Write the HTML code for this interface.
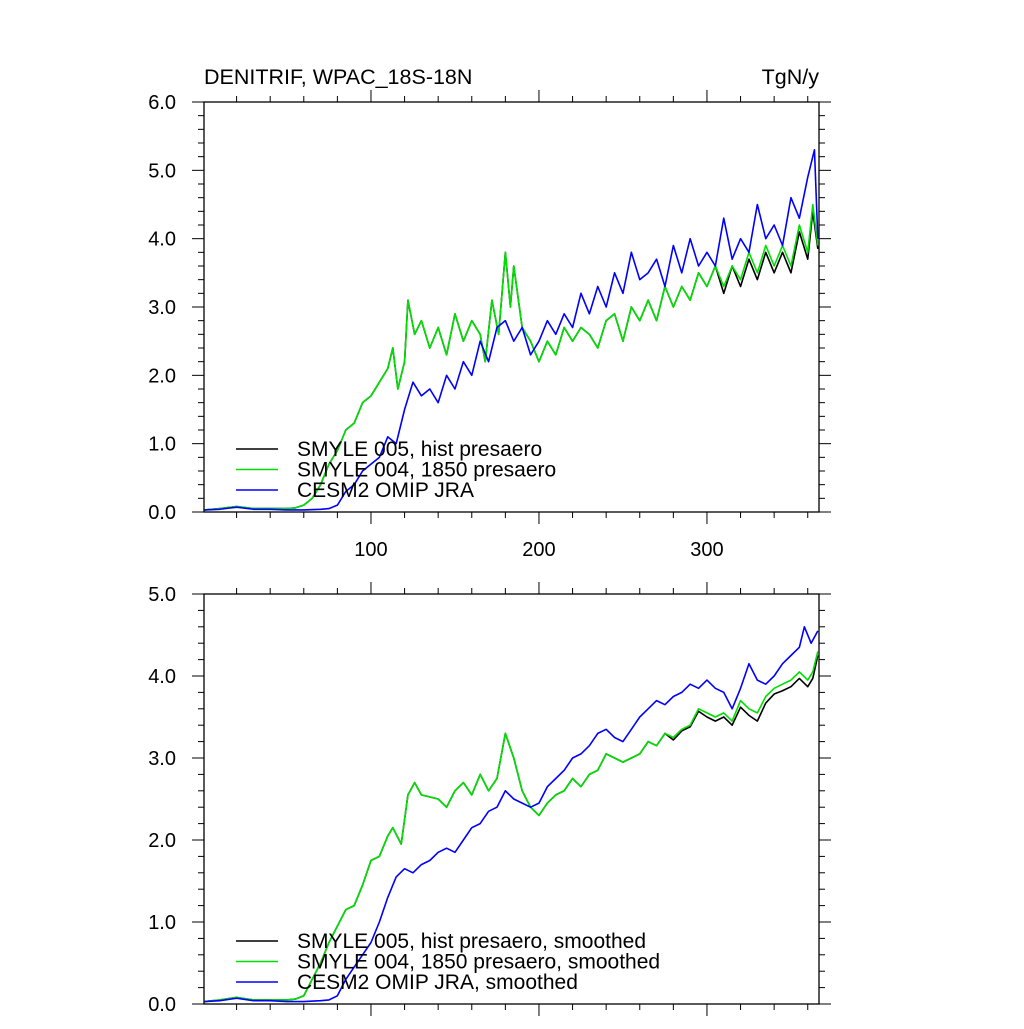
<!DOCTYPE html>
<html><head><meta charset="utf-8"><style>
body{margin:0;background:#fff}
svg text{font-family:"Liberation Sans",sans-serif;fill:#000}
</style></head><body>
<svg id="c" width="1024" height="1024" viewBox="0 0 1024 1024">
<text x="204" y="84" font-size="21.5">DENITRIF, WPAC_18S-18N</text>
<text x="819" y="84" font-size="21.5" text-anchor="end">TgN/y</text>
<g id="top"></g>
<g id="bot"></g>
</svg>
<script>
const topGreenX=[1,10,20,30,40,50,55,60,65,70,75,80,85,90,95,100,105,110,113,116,120,122,126,130,135,140,145,150,155,160,165,168,172,176,180,183,185,190,195,200,205,210,215,220,225,230,235,240,245,250,255,260,265,270,275,280,285,290,295,300,305,310,315,320,325,330,335,340,345,350,355,360,363,366];
const topGreenY=[0.03,0.05,0.08,0.05,0.05,0.05,0.06,0.1,0.2,0.4,0.7,0.9,1.2,1.3,1.6,1.7,1.9,2.1,2.4,1.8,2.2,3.1,2.6,2.8,2.4,2.7,2.3,2.9,2.5,2.8,2.6,2.2,3.1,2.6,3.8,3.0,3.6,2.7,2.5,2.2,2.5,2.3,2.7,2.5,2.7,2.6,2.4,2.8,2.9,2.5,3.0,2.8,3.1,2.8,3.3,3.0,3.3,3.1,3.5,3.3,3.6,3.3,3.6,3.4,3.8,3.5,3.9,3.6,3.9,3.6,4.2,3.8,4.5,3.9];
const topBlackY=[0.03,0.05,0.08,0.05,0.05,0.05,0.06,0.1,0.2,0.4,0.7,0.9,1.2,1.3,1.6,1.7,1.9,2.1,2.4,1.8,2.2,3.1,2.6,2.8,2.4,2.7,2.3,2.9,2.5,2.8,2.6,2.2,3.1,2.6,3.8,3.0,3.6,2.7,2.5,2.2,2.5,2.3,2.7,2.5,2.7,2.6,2.4,2.8,2.9,2.5,3.0,2.8,3.1,2.8,3.3,3.0,3.3,3.1,3.5,3.3,3.6,3.2,3.6,3.3,3.7,3.4,3.8,3.5,3.8,3.5,4.1,3.7,4.4,3.85];
const topBlueX=[1,10,20,30,40,50,60,70,75,80,85,90,95,100,105,110,115,120,125,130,135,140,145,150,155,160,165,170,175,180,185,190,195,200,205,210,215,220,225,230,235,240,245,250,255,260,265,270,275,280,285,290,295,300,305,310,315,320,325,330,335,340,345,350,355,360,364,366];
const topBlueY=[0.03,0.04,0.07,0.04,0.04,0.03,0.03,0.04,0.05,0.1,0.3,0.4,0.6,0.7,0.8,1.1,1.0,1.5,1.9,1.7,1.8,1.6,2.0,1.8,2.2,2.0,2.5,2.2,2.7,2.8,2.5,2.7,2.3,2.5,2.8,2.6,2.9,2.7,3.2,2.9,3.3,3.0,3.5,3.2,3.8,3.4,3.5,3.7,3.3,3.9,3.5,4.0,3.6,3.8,3.6,4.3,3.7,4.0,3.8,4.5,4.0,4.2,3.9,4.6,4.3,4.9,5.3,4.0];
const botGreenX=[1,10,20,30,40,50,55,60,65,70,75,80,85,90,95,100,105,110,113,118,122,126,130,140,145,150,155,160,165,170,175,180,185,190,195,200,205,210,215,220,225,230,235,240,245,250,255,260,265,270,275,280,285,290,295,300,305,310,315,320,325,330,335,340,345,350,355,360,363,366];
const botGreenY=[0.03,0.05,0.08,0.05,0.05,0.05,0.06,0.1,0.3,0.5,0.75,0.95,1.15,1.2,1.45,1.75,1.8,2.05,2.15,1.95,2.55,2.7,2.55,2.5,2.4,2.6,2.7,2.55,2.8,2.6,2.75,3.3,3.0,2.6,2.4,2.3,2.45,2.55,2.6,2.75,2.65,2.8,2.85,3.05,3.0,2.95,3.0,3.05,3.2,3.15,3.3,3.25,3.35,3.4,3.6,3.55,3.5,3.55,3.45,3.7,3.6,3.55,3.75,3.85,3.9,3.95,4.05,3.95,4.05,4.3];
const botBlackY=[0.03,0.05,0.08,0.05,0.05,0.05,0.06,0.1,0.3,0.5,0.75,0.95,1.15,1.2,1.45,1.75,1.8,2.05,2.15,1.95,2.55,2.7,2.55,2.5,2.4,2.6,2.7,2.55,2.8,2.6,2.75,3.3,3.0,2.6,2.4,2.3,2.45,2.55,2.6,2.75,2.65,2.8,2.85,3.05,3.0,2.95,3.0,3.05,3.2,3.15,3.3,3.22,3.33,3.38,3.57,3.5,3.45,3.5,3.4,3.62,3.52,3.45,3.67,3.78,3.82,3.87,3.97,3.87,3.97,4.25];
const botBlueX=[1,10,20,30,40,50,60,70,75,80,85,90,95,100,105,110,115,120,125,130,135,140,145,150,155,160,165,170,175,180,185,190,195,200,205,210,215,220,225,230,235,240,245,250,255,260,265,270,275,280,285,290,295,300,305,310,315,320,325,330,335,340,345,350,355,358,362,366];
const botBlueY=[0.03,0.04,0.07,0.04,0.04,0.03,0.03,0.04,0.05,0.1,0.3,0.45,0.6,0.75,1.0,1.3,1.55,1.65,1.6,1.7,1.75,1.85,1.9,1.85,2.0,2.15,2.2,2.35,2.4,2.6,2.5,2.45,2.4,2.45,2.65,2.75,2.85,3.0,3.05,3.15,3.3,3.35,3.25,3.2,3.35,3.5,3.6,3.7,3.65,3.75,3.8,3.9,3.85,3.95,3.85,3.8,3.6,3.85,4.15,3.95,3.9,4.0,4.15,4.25,4.35,4.6,4.4,4.55];
const yTicksTop=[0,1,2,3,4,5,6];
const yTicksBot=[0,1,2,3,4,5];
const xTicks=[100,200,300];

const NS='http://www.w3.org/2000/svg';
function mk(p,t,a){const e=document.createElementNS(NS,t);for(const k in a)e.setAttribute(k,a[k]);p.appendChild(e);return e;}
const L=204,R=819,X0=0.6,X1=366.7;
const sx=v=>L+(v-X0)*(R-L)/(X1-X0);
function panel(g,T,B,ymax,labelX,series,legend){
  const sy=v=>B-v*(B-T)/ymax;
  const frame=mk(g,'rect',{x:L,y:T,width:R-L,height:B-T,fill:'none',stroke:'#000','stroke-width':1.3});
  
  
  for(let i=0;i<=ymax*5;i++){const v=i/5,y=sy(v),len=(i%5==0)?12:6;
    mk(g,'line',{x1:L-len,y1:y,x2:L,y2:y,stroke:'#000','stroke-width':1});
    mk(g,'line',{x1:R,y1:y,x2:R+len,y2:y,stroke:'#000','stroke-width':1});}
  const yt=ymax==6?yTicksTop:yTicksBot;
  yt.forEach(v=>{const t=mk(g,'text',{x:176,y:sy(v)+7,'font-size':20,'text-anchor':'end'});t.textContent=v.toFixed(1);
    
    });
  for(let v=20;v<=360;v+=20){const x=sx(v),len=(v%100==0)?12:6;
    mk(g,'line',{x1:x,y1:T,x2:x,y2:T-len,stroke:'#000','stroke-width':1});
    mk(g,'line',{x1:x,y1:B,x2:x,y2:B+len,stroke:'#000','stroke-width':1});}
  if(labelX) xTicks.forEach(v=>{const t=mk(g,'text',{x:sx(v),y:B+44,'font-size':20,'text-anchor':'middle'});t.textContent=v;
    
    });
  series.forEach(s=>{const p=mk(g,'polyline',{points:s.x.map((x,i)=>sx(x)+','+sy(s.y[i])).join(' '),fill:'none',stroke:s.c,'stroke-width':1.6,'stroke-linejoin':'round'});
    
    });
  legend.forEach((l,i)=>{const y=legend.y0+i*20.5;
    mk(g,'line',{x1:236,y1:y,x2:278,y2:y,stroke:l.c,'stroke-width':1.6});
    const t=mk(g,'text',{x:297,y:y+7,'font-size':21});t.textContent=l.t;
    
    });
}
const lt=[{c:'#000',t:'SMYLE 005, hist presaero'},{c:'#00e000',t:'SMYLE 004, 1850 presaero'},{c:'#0000ff',t:'CESM2 OMIP JRA'}];lt.y0=449;
panel(document.getElementById('top'),102,512,6,true,[
 {x:topGreenX,y:topBlackY,c:'#000',n:'smyle005-line'},
 {x:topGreenX,y:topGreenY,c:'#00e000',n:'smyle004-line'},
 {x:topBlueX,y:topBlueY,c:'#0000ff',n:'omip-jra-line'}],lt);
const lb=[{c:'#000',t:'SMYLE 005, hist presaero, smoothed'},{c:'#00e000',t:'SMYLE 004, 1850 presaero, smoothed'},{c:'#0000ff',t:'CESM2 OMIP JRA, smoothed'}];lb.y0=941;
panel(document.getElementById('bot'),594,1004,5,false,[
 {x:botGreenX,y:botBlackY,c:'#000',n:'smyle005-smoothed-line'},
 {x:botGreenX,y:botGreenY,c:'#00e000',n:'smyle004-smoothed-line'},
 {x:botBlueX,y:botBlueY,c:'#0000ff',n:'omip-jra-smoothed-line'}],lb);
</script>
</body></html>
